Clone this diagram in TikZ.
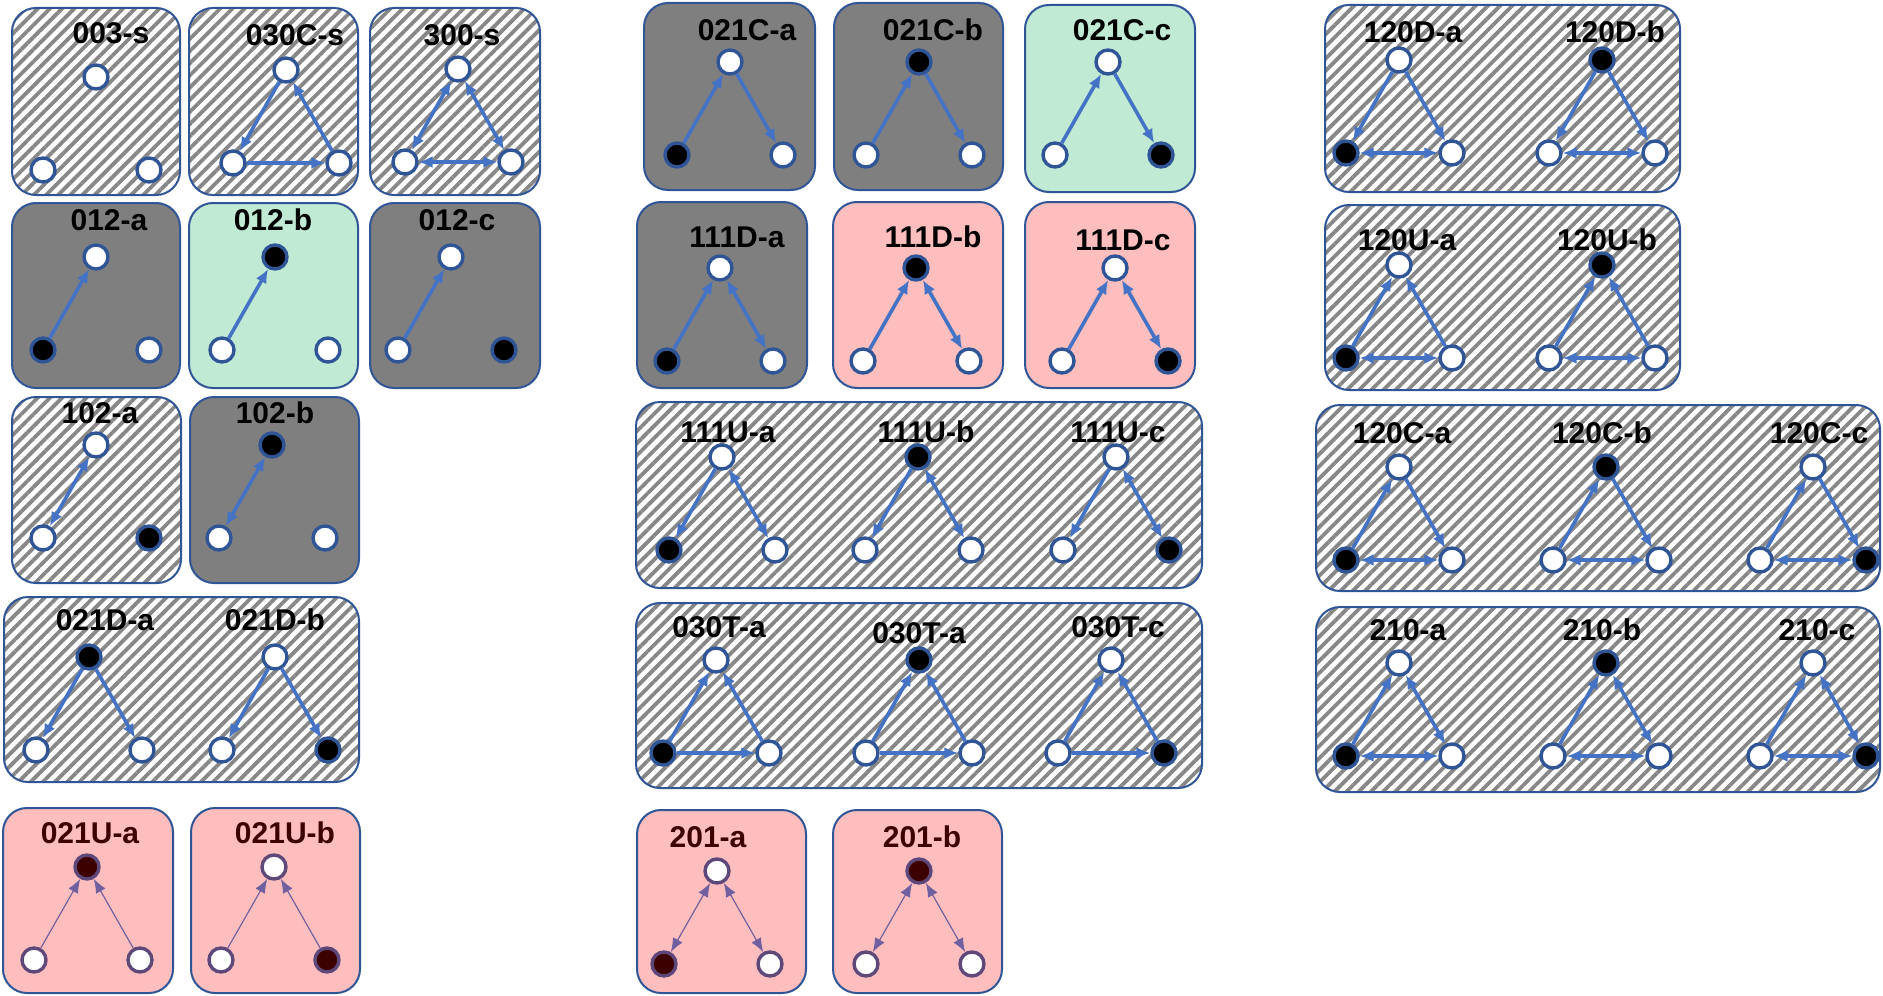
\documentclass[tikz,border=0pt]{standalone}
\usepackage{fontspec}
\setmainfont{Liberation Sans}
\usetikzlibrary{arrows.meta, patterns.meta}
\definecolor{boxblue}{RGB}{47,85,151}
\definecolor{edgeblue}{RGB}{68,114,196}
\definecolor{boxgray}{RGB}{127,127,127}
\definecolor{boxgreen}{RGB}{193,234,212}
\definecolor{boxpink}{RGB}{255,190,190}
\definecolor{stripe}{RGB}{135,135,135}
\definecolor{plum}{RGB}{94,72,122}
\definecolor{plumedge}{RGB}{112,96,160}
\definecolor{maroon}{RGB}{60,0,0}
\tikzset{
 card/.style={draw=boxblue, line width=1pt, rounded corners=12pt},
 hatched/.style={card, pattern={Lines[angle=45,distance=4.3pt,line width=1.9pt]}, pattern color=stripe},
 greybox/.style={card, fill=boxgray},
 greenbox/.style={card, fill=boxgreen},
 pinkbox/.style={card, fill=boxpink},
 vtx/.style={circle, draw=boxblue, line width=1.7pt, minimum size=12pt, inner sep=0pt},
 pvtx/.style={vtx, draw=plum},
 edge/.style={draw=edgeblue, line width=1.8pt},
 pedge/.style={draw=plumedge, line width=0.6pt, >={Latex[length=7pt,width=5.5pt]}},
 lbl/.style={font=\fontsize{15}{16}\selectfont\bfseries, inner sep=0pt},
 plbl/.style={lbl, text=maroon}
}
\newcommand{\triad}[7][vtx]{%
 \node[#1,fill=#5] (#2t) at (#3,#4) {};
 \node[#1,fill=#6] (#2l) at ([shift={(-53,93)}]#3,#4) {};
 \node[#1,fill=#7] (#2r) at ([shift={(53,93)}]#3,#4) {};}

\begin{document}
\begin{tikzpicture}[x=0.5pt, y=-0.5pt, >={Latex[length=7pt,width=6pt]}]
\useasboundingbox (0,0) rectangle (1883,995);
\fill[white] (0,0) rectangle (1883,995);

\draw[hatched] (12,8) rectangle (180,195); \draw[hatched] (189,8) rectangle (358,195); \draw[hatched] (370,8) rectangle (540,195);
\draw[greybox] (12,203) rectangle (180,388); \draw[greenbox] (189,203) rectangle (358,388); \draw[greybox] (370,203) rectangle (540,388);
\draw[hatched] (12,397) rectangle (181,583); \draw[greybox] (190,397) rectangle (359,583);
\draw[hatched] (4,597) rectangle (359,782);
\draw[pinkbox] (3,808) rectangle (173,993); \draw[pinkbox] (191,808) rectangle (360,993);
\draw[greybox] (644,3) rectangle (815,190); \draw[greybox] (834,3) rectangle (1003,190); \draw[greenbox] (1025,5) rectangle (1195,192);
\draw[greybox] (637,202) rectangle (807,388); \draw[pinkbox] (833,202) rectangle (1003,388); \draw[pinkbox] (1025,202) rectangle (1195,388);
\draw[hatched] (636,402) rectangle (1202,588);
\draw[hatched] (636,603) rectangle (1202,788);
\draw[pinkbox] (637,810) rectangle (806,993); \draw[pinkbox] (833,810) rectangle (1002,993);
\draw[hatched] (1325,5) rectangle (1680,192); \draw[hatched] (1325,205) rectangle (1680,390);
\draw[hatched] (1316,405) rectangle (1880,591); \draw[hatched] (1316,607) rectangle (1880,792);

\node[lbl] (l003s) at (111,33) {003-s}; \node[lbl] (l030Cs) at (295,35) {030C-s}; \node[lbl] (l300s) at (462,35) {300-s};
\node[lbl] (l012a) at (109,220) {012-a}; \node[lbl] (l012b) at (273,220) {012-b}; \node[lbl] (l012c) at (457,220) {012-c};
\node[lbl] (l102a) at (100,413) {102-a}; \node[lbl] (l102b) at (275,413) {102-b};
\node[lbl] (l021Da) at (105,620) {021D-a}; \node[lbl] (l021Db) at (275,620) {021D-b};
\node[plbl] (l021Ua) at (90,833) {021U-a}; \node[plbl] (l021Ub) at (285,833) {021U-b};
\node[lbl] (l021Ca) at (747,30) {021C-a}; \node[lbl] (l021Cb) at (933,30) {021C-b}; \node[lbl] (l021Cc) at (1122,30) {021C-c};
\node[lbl] (l111Da) at (737,237) {111D-a}; \node[lbl] (l111Db) at (933,237) {111D-b}; \node[lbl] (l111Dc) at (1123,240) {111D-c};
\node[lbl] (l111Ua) at (728,432) {111U-a}; \node[lbl] (l111Ub) at (926,432) {111U-b}; \node[lbl] (l111Uc) at (1118,432) {111U-c};
\node[lbl] (l030Ta) at (719,627) {030T-a}; \node[lbl] (l030Tb) at (919,633) {030T-a}; \node[lbl] (l030Tc) at (1118,627) {030T-c};
\node[plbl] (l201a) at (708,837) {201-a}; \node[plbl] (l201b) at (922,837) {201-b};
\node[lbl] (l120Da) at (1413,32) {120D-a}; \node[lbl] (l120Db) at (1615,32) {120D-b};
\node[lbl] (l120Ua) at (1407,240) {120U-a}; \node[lbl] (l120Ub) at (1607,240) {120U-b};
\node[lbl] (l120Ca) at (1402,433) {120C-a}; \node[lbl] (l120Cb) at (1602,433) {120C-b}; \node[lbl] (l120Cc) at (1819,433) {120C-c};
\node[lbl] (l210a) at (1408,630) {210-a}; \node[lbl] (l210b) at (1602,630) {210-b}; \node[lbl] (l210c) at (1817,630) {210-c};

\triad{s003}{96}{77}{white}{white}{white}
\triad{s030C}{286}{70}{white}{white}{white}
\triad{s300}{458}{69}{white}{white}{white}
\triad{a012}{96}{257}{white}{black}{white}
\triad{b012}{275}{257}{black}{white}{white}
\triad{c012}{451}{257}{white}{white}{black}
\triad{a102}{96}{445}{white}{white}{black}
\triad{b102}{272}{445}{black}{white}{white}
\triad{a021D}{89}{657}{black}{white}{white}
\triad{b021D}{275}{657}{white}{white}{black}
\triad[pvtx]{a021U}{87}{867}{maroon}{white}{white}
\triad[pvtx]{b021U}{274}{867}{white}{white}{maroon}
\triad{a021C}{730}{62}{white}{black}{white}
\triad{b021C}{919}{62}{black}{white}{white}
\triad{c021C}{1108}{62}{white}{white}{black}
\triad{a111D}{720}{268}{white}{black}{white}
\triad{b111D}{916}{268}{black}{white}{white}
\triad{c111D}{1115}{268}{white}{white}{black}
\triad{a111U}{722}{457}{white}{black}{white}
\triad{b111U}{918}{457}{black}{white}{white}
\triad{c111U}{1116}{457}{white}{white}{black}
\triad{a030T}{716}{660}{white}{black}{white}
\triad{b030T}{919}{660}{black}{white}{white}
\triad{c030T}{1111}{660}{white}{white}{black}
\triad[pvtx]{a201}{717}{871}{white}{maroon}{white}
\triad[pvtx]{b201}{919}{871}{maroon}{white}{white}
\triad{a120D}{1399}{60}{white}{black}{white}
\triad{b120D}{1602}{60}{black}{white}{white}
\triad{a120U}{1399}{265}{white}{black}{white}
\triad{b120U}{1602}{265}{black}{white}{white}
\triad{a120C}{1399}{467}{white}{black}{white}
\triad{b120C}{1606}{467}{black}{white}{white}
\triad{c120C}{1813}{467}{white}{white}{black}
\triad{a210}{1399}{663}{white}{black}{white}
\triad{b210}{1606}{663}{black}{white}{white}
\triad{c210}{1813}{663}{white}{white}{black}

\draw[edge,->] (s030Ct) -- (s030Cl); \draw[edge,->] (s030Cl) -- (s030Cr); \draw[edge,->] (s030Cr) -- (s030Ct);
\draw[edge,<->] (s300t) -- (s300l); \draw[edge,<->] (s300t) -- (s300r); \draw[edge,<->] (s300l) -- (s300r);
\draw[edge,->] (a012l) -- (a012t); \draw[edge,->] (b012l) -- (b012t); \draw[edge,->] (c012l) -- (c012t);
\draw[edge,<->] (a102l) -- (a102t); \draw[edge,<->] (b102l) -- (b102t);
\draw[edge,->] (a021Dt) -- (a021Dl); \draw[edge,->] (a021Dt) -- (a021Dr);
\draw[edge,->] (b021Dt) -- (b021Dl); \draw[edge,->] (b021Dt) -- (b021Dr);
\draw[pedge,->] (a021Ul) -- (a021Ut); \draw[pedge,->] (a021Ur) -- (a021Ut);
\draw[pedge,->] (b021Ul) -- (b021Ut); \draw[pedge,->] (b021Ur) -- (b021Ut);
\draw[edge,->] (a021Cl) -- (a021Ct); \draw[edge,->] (a021Ct) -- (a021Cr);
\draw[edge,->] (b021Cl) -- (b021Ct); \draw[edge,->] (b021Ct) -- (b021Cr);
\draw[edge,->] (c021Cl) -- (c021Ct); \draw[edge,->] (c021Ct) -- (c021Cr);
\draw[edge,->] (a111Dl) -- (a111Dt); \draw[edge,<->] (a111Dt) -- (a111Dr);
\draw[edge,->] (b111Dl) -- (b111Dt); \draw[edge,<->] (b111Dt) -- (b111Dr);
\draw[edge,->] (c111Dl) -- (c111Dt); \draw[edge,<->] (c111Dt) -- (c111Dr);
\draw[edge,->] (a111Ut) -- (a111Ul); \draw[edge,<->] (a111Ut) -- (a111Ur);
\draw[edge,->] (b111Ut) -- (b111Ul); \draw[edge,<->] (b111Ut) -- (b111Ur);
\draw[edge,->] (c111Ut) -- (c111Ul); \draw[edge,<->] (c111Ut) -- (c111Ur);
\draw[edge,->] (a030Tl) -- (a030Tt); \draw[edge,->] (a030Tr) -- (a030Tt); \draw[edge,->] (a030Tl) -- (a030Tr);
\draw[edge,->] (b030Tl) -- (b030Tt); \draw[edge,->] (b030Tr) -- (b030Tt); \draw[edge,->] (b030Tl) -- (b030Tr);
\draw[edge,->] (c030Tl) -- (c030Tt); \draw[edge,->] (c030Tr) -- (c030Tt); \draw[edge,->] (c030Tl) -- (c030Tr);
\draw[pedge,<->] (a201t) -- (a201l); \draw[pedge,<->] (a201t) -- (a201r);
\draw[pedge,<->] (b201t) -- (b201l); \draw[pedge,<->] (b201t) -- (b201r);
\draw[edge,->] (a120Dt) -- (a120Dl); \draw[edge,->] (a120Dt) -- (a120Dr); \draw[edge,<->] (a120Dl) -- (a120Dr);
\draw[edge,->] (b120Dt) -- (b120Dl); \draw[edge,->] (b120Dt) -- (b120Dr); \draw[edge,<->] (b120Dl) -- (b120Dr);
\draw[edge,->] (a120Ul) -- (a120Ut); \draw[edge,->] (a120Ur) -- (a120Ut); \draw[edge,<->] (a120Ul) -- (a120Ur);
\draw[edge,->] (b120Ul) -- (b120Ut); \draw[edge,->] (b120Ur) -- (b120Ut); \draw[edge,<->] (b120Ul) -- (b120Ur);
\draw[edge,->] (a120Cl) -- (a120Ct); \draw[edge,->] (a120Ct) -- (a120Cr); \draw[edge,<->] (a120Cl) -- (a120Cr);
\draw[edge,->] (b120Cl) -- (b120Ct); \draw[edge,->] (b120Ct) -- (b120Cr); \draw[edge,<->] (b120Cl) -- (b120Cr);
\draw[edge,->] (c120Cl) -- (c120Ct); \draw[edge,->] (c120Ct) -- (c120Cr); \draw[edge,<->] (c120Cl) -- (c120Cr);
\draw[edge,->] (a210l) -- (a210t); \draw[edge,<->] (a210t) -- (a210r); \draw[edge,<->] (a210l) -- (a210r);
\draw[edge,->] (b210l) -- (b210t); \draw[edge,<->] (b210t) -- (b210r); \draw[edge,<->] (b210l) -- (b210r);
\draw[edge,->] (c210l) -- (c210t); \draw[edge,<->] (c210t) -- (c210r); \draw[edge,<->] (c210l) -- (c210r);
\end{tikzpicture}
\end{document}
